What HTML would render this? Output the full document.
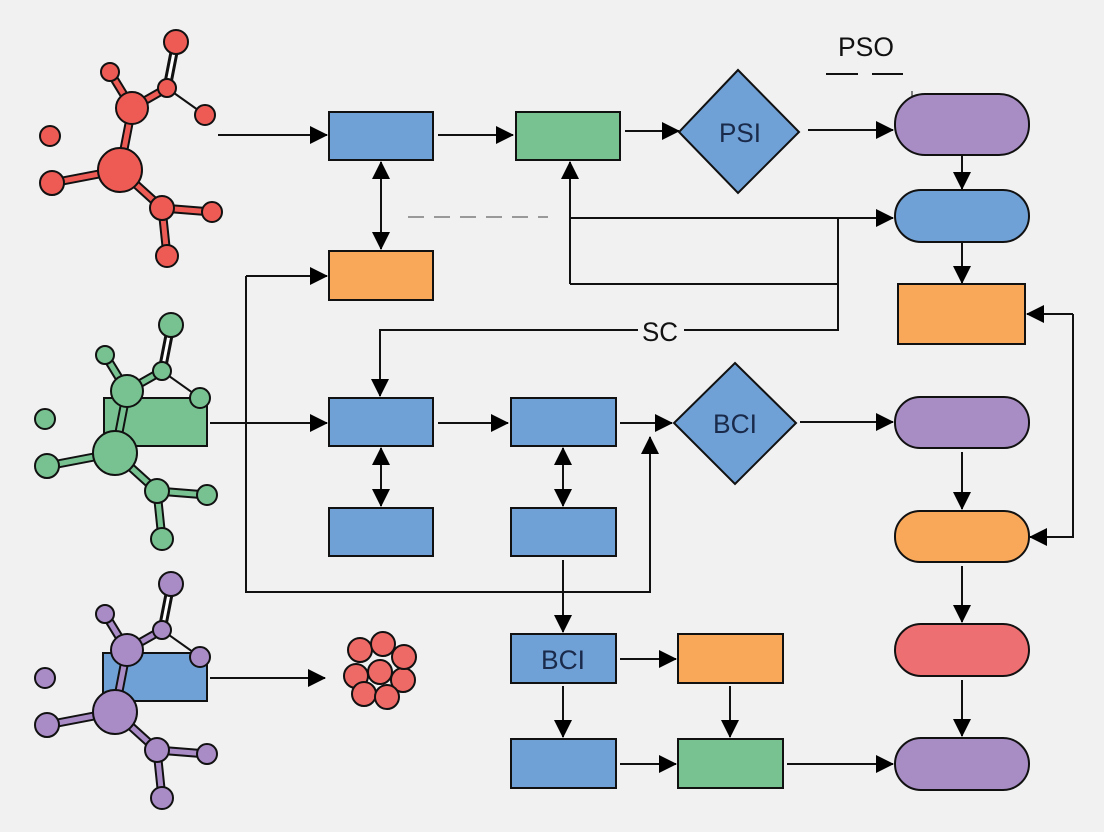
<!DOCTYPE html>
<html><head><meta charset="utf-8"><style>
html,body{margin:0;padding:0;background:#f1f1f1}
svg{display:block}
text{font-family:"Liberation Sans",sans-serif}
</style></head><body>
<svg width="1104" height="832" viewBox="0 0 1104 832" xmlns="http://www.w3.org/2000/svg">
<defs>
<marker id="a" markerWidth="18" markerHeight="18" refX="17" refY="9" orient="auto" markerUnits="userSpaceOnUse" viewBox="0 0 18 18"><path d="M0,0 L18,9 L0,18 Z" fill="#000"/></marker>
<marker id="as" markerWidth="18" markerHeight="18" refX="1" refY="9" orient="auto" markerUnits="userSpaceOnUse" viewBox="0 0 18 18"><path d="M18,0 L0,9 L18,18 Z" fill="#000"/></marker>
<g id="bonds">
<g stroke="#111" stroke-width="9" stroke-linecap="round">
<line x1="0" y1="0" x2="12" y2="-62"/><line x1="12" y1="-62" x2="47" y2="-82"/>
<line x1="12" y1="-62" x2="-10" y2="-98"/><line x1="0" y1="0" x2="-68" y2="13"/>
<line x1="0" y1="0" x2="42" y2="38"/><line x1="42" y1="38" x2="92" y2="42"/>
<line x1="42" y1="38" x2="47" y2="86"/><line x1="47" y1="-82" x2="56" y2="-128"/>
</g>
<line x1="47" y1="-82" x2="85" y2="-55" stroke="#111" stroke-width="2"/>
</g>
</defs>
<rect x="0" y="0" width="1104" height="832" rx="20" fill="#f1f1f1"/>

<rect x="104" y="398" width="103" height="48" fill="#78c291" stroke="#111" stroke-width="2"/>
<rect x="103" y="653" width="104" height="48" fill="#6fa0d6" stroke="#111" stroke-width="2"/>

<g transform="translate(120,170)" fill="#ee5b55" stroke="#111" stroke-width="2">
<use href="#bonds"/>
<g stroke="#ee5b55" stroke-width="5"><line x1="0" y1="0" x2="12" y2="-62"/><line x1="12" y1="-62" x2="47" y2="-82"/><line x1="12" y1="-62" x2="-10" y2="-98"/><line x1="0" y1="0" x2="-68" y2="13"/><line x1="0" y1="0" x2="42" y2="38"/><line x1="42" y1="38" x2="92" y2="42"/><line x1="42" y1="38" x2="47" y2="86"/></g>
<line x1="47" y1="-82" x2="56" y2="-128" stroke="#fff" stroke-width="3"/>
<circle cx="0" cy="0" r="22"/><circle cx="12" cy="-62" r="16"/><circle cx="47" cy="-82" r="9"/><circle cx="56" cy="-128" r="12"/><circle cx="-10" cy="-98" r="9"/><circle cx="85" cy="-55" r="10"/><circle cx="-70" cy="-34" r="10"/><circle cx="-68" cy="13" r="12"/><circle cx="42" cy="38" r="12"/><circle cx="92" cy="42" r="10"/><circle cx="47" cy="86" r="11"/>
</g>
<g transform="translate(115,453)" fill="#78c291" stroke="#111" stroke-width="2">
<use href="#bonds"/>
<g stroke="#78c291" stroke-width="5"><line x1="0" y1="0" x2="12" y2="-62"/><line x1="12" y1="-62" x2="47" y2="-82"/><line x1="12" y1="-62" x2="-10" y2="-98"/><line x1="0" y1="0" x2="-68" y2="13"/><line x1="0" y1="0" x2="42" y2="38"/><line x1="42" y1="38" x2="92" y2="42"/><line x1="42" y1="38" x2="47" y2="86"/></g>
<line x1="47" y1="-82" x2="56" y2="-128" stroke="#fff" stroke-width="3"/>
<circle cx="0" cy="0" r="22"/><circle cx="12" cy="-62" r="16"/><circle cx="47" cy="-82" r="9"/><circle cx="56" cy="-128" r="12"/><circle cx="-10" cy="-98" r="9"/><circle cx="85" cy="-55" r="10"/><circle cx="-70" cy="-34" r="10"/><circle cx="-68" cy="13" r="12"/><circle cx="42" cy="38" r="12"/><circle cx="92" cy="42" r="10"/><circle cx="47" cy="86" r="11"/>
</g>
<g transform="translate(115,712)" fill="#a98bc6" stroke="#111" stroke-width="2">
<use href="#bonds"/>
<g stroke="#a98bc6" stroke-width="5"><line x1="0" y1="0" x2="12" y2="-62"/><line x1="12" y1="-62" x2="47" y2="-82"/><line x1="12" y1="-62" x2="-10" y2="-98"/><line x1="0" y1="0" x2="-68" y2="13"/><line x1="0" y1="0" x2="42" y2="38"/><line x1="42" y1="38" x2="92" y2="42"/><line x1="42" y1="38" x2="47" y2="86"/></g>
<line x1="47" y1="-82" x2="56" y2="-128" stroke="#fff" stroke-width="3"/>
<circle cx="0" cy="0" r="22"/><circle cx="12" cy="-62" r="16"/><circle cx="47" cy="-82" r="9"/><circle cx="56" cy="-128" r="12"/><circle cx="-10" cy="-98" r="9"/><circle cx="85" cy="-55" r="10"/><circle cx="-70" cy="-34" r="10"/><circle cx="-68" cy="13" r="12"/><circle cx="42" cy="38" r="12"/><circle cx="92" cy="42" r="10"/><circle cx="47" cy="86" r="11"/>
</g>

<g fill="#ee6a66" stroke="#111" stroke-width="2">
<circle cx="356" cy="676" r="12"/><circle cx="403" cy="680" r="12"/><circle cx="360" cy="650" r="12"/><circle cx="383" cy="644" r="12"/><circle cx="404" cy="657" r="12"/><circle cx="364" cy="694" r="12"/><circle cx="387" cy="697" r="12"/><circle cx="380" cy="672" r="12"/>
</g>

<g stroke="#111" stroke-width="2" fill="none">
<line x1="218" y1="135" x2="327" y2="135" marker-end="url(#a)"/>
<line x1="438" y1="135" x2="513" y2="135" marker-end="url(#a)"/>
<line x1="625" y1="131" x2="679" y2="131" marker-end="url(#a)"/>
<line x1="808" y1="130" x2="893" y2="130" marker-end="url(#a)"/>
<line x1="381" y1="162" x2="381" y2="249" marker-start="url(#as)" marker-end="url(#a)"/>
<line x1="962" y1="155" x2="962" y2="189" marker-end="url(#a)"/>
<line x1="570" y1="284" x2="570" y2="162" marker-end="url(#a)"/>
<polyline points="570,284 838,284"/>
<line x1="570" y1="218" x2="893" y2="218" marker-end="url(#a)"/>
<polyline points="838,218 838,330 684,330"/>
<polyline points="638,330 380,330 380,396" marker-end="url(#a)"/>
<line x1="962" y1="242" x2="962" y2="283" marker-end="url(#a)"/>
<polyline points="1073,314 1073,537 1030,537" marker-end="url(#a)"/>
<line x1="1073" y1="314" x2="1027" y2="314" marker-end="url(#a)"/>
<line x1="210" y1="423" x2="327" y2="423" marker-end="url(#a)"/>
<line x1="438" y1="423" x2="508" y2="423" marker-end="url(#a)"/>
<line x1="620" y1="423" x2="672" y2="423" marker-end="url(#a)"/>
<line x1="800" y1="422" x2="893" y2="422" marker-end="url(#a)"/>
<line x1="327" y1="276" x2="246" y2="276" marker-start="url(#as)"/>
<polyline points="246,276 246,592 650,592 650,437" marker-end="url(#a)"/>
<line x1="381" y1="448" x2="381" y2="506" marker-start="url(#as)" marker-end="url(#a)"/>
<line x1="563" y1="448" x2="563" y2="506" marker-start="url(#as)" marker-end="url(#a)"/>
<line x1="563" y1="560" x2="563" y2="632" marker-end="url(#a)"/>
<line x1="620" y1="659" x2="676" y2="659" marker-end="url(#a)"/>
<line x1="730" y1="686" x2="730" y2="737" marker-end="url(#a)"/>
<line x1="563" y1="686" x2="563" y2="737" marker-end="url(#a)"/>
<line x1="620" y1="764" x2="676" y2="764" marker-end="url(#a)"/>
<line x1="787" y1="764" x2="893" y2="764" marker-end="url(#a)"/>
<line x1="962" y1="452" x2="962" y2="509" marker-end="url(#a)"/>
<line x1="962" y1="566" x2="962" y2="622" marker-end="url(#a)"/>
<line x1="962" y1="680" x2="962" y2="736" marker-end="url(#a)"/>
<line x1="210" y1="678" x2="325" y2="678" marker-end="url(#a)"/>
<line x1="826" y1="74" x2="858" y2="74"/><line x1="872" y1="74" x2="903" y2="74"/>
<line x1="912" y1="91" x2="912" y2="97" stroke-width="1"/>
</g>
<line x1="408" y1="217" x2="548" y2="217" stroke="#999" stroke-width="2" stroke-dasharray="16,10"/>

<g stroke="#111" stroke-width="2">
<rect x="329" y="112" width="104" height="48" fill="#6fa0d6"/>
<rect x="516" y="112" width="104" height="48" fill="#78c291"/>
<polygon points="738,70 799,132 738,193 679,132" fill="#6fa0d6"/>
<rect x="895" y="94" width="134" height="61" rx="30" fill="#a78dc4"/>
<rect x="329" y="251" width="104" height="49" fill="#f9a85a"/>
<rect x="895" y="190" width="134" height="52" rx="26" fill="#6fa0d6"/>
<rect x="898" y="284" width="127" height="60" fill="#f9a85a"/>
<rect x="329" y="398" width="104" height="48" fill="#6fa0d6"/>
<rect x="511" y="398" width="105" height="48" fill="#6fa0d6"/>
<polygon points="735,363 796,423 735,484 674,423" fill="#6fa0d6"/>
<rect x="895" y="397" width="134" height="51" rx="25" fill="#a78dc4"/>
<rect x="329" y="508" width="104" height="48" fill="#6fa0d6"/>
<rect x="511" y="508" width="105" height="48" fill="#6fa0d6"/>
<rect x="511" y="634" width="105" height="49" fill="#6fa0d6"/>
<rect x="678" y="634" width="105" height="49" fill="#f9a85a"/>
<rect x="511" y="739" width="105" height="49" fill="#6fa0d6"/>
<rect x="678" y="739" width="105" height="49" fill="#78c291"/>
<rect x="895" y="511" width="134" height="51" rx="25" fill="#f9a85a"/>
<rect x="895" y="624" width="134" height="52" rx="26" fill="#ee6f72"/>
<rect x="895" y="738" width="134" height="52" rx="26" fill="#a78dc4"/>
</g>

<g fill="#111" font-size="27" text-anchor="middle">
<text x="866" y="56" textLength="56" lengthAdjust="spacingAndGlyphs">PSO</text>
<text x="740" y="142" fill="#1a2a4a" textLength="42" lengthAdjust="spacingAndGlyphs">PSI</text>
<text x="660" y="341" textLength="36" lengthAdjust="spacingAndGlyphs">SC</text>
<text x="735" y="433" fill="#1a2a4a" textLength="44" lengthAdjust="spacingAndGlyphs">BCI</text>
<text x="563" y="669" fill="#1a2a4a" textLength="44" lengthAdjust="spacingAndGlyphs">BCI</text>
</g>
</svg>
</body></html>
